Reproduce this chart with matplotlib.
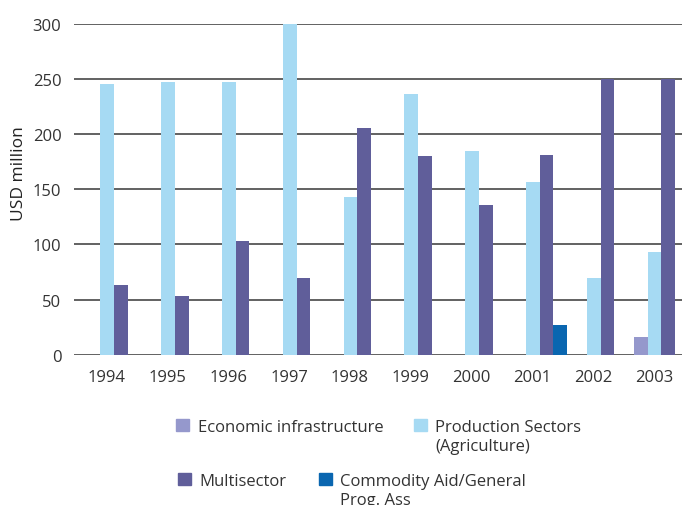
import matplotlib.pyplot as plt
import numpy as np
from matplotlib.patches import Rectangle

plt.rcParams.update({
    "font.family": ["Open Sans", "DejaVu Sans"],
    "font.size": 12,
})

# ============================================================
# Data
# ============================================================

years = ["1994", "1995", "1996", "1997", "1998", "1999", "2000", "2001", "2002", "2003"]
series_names = ["Economic infrastructure", "Production Sectors\n(Agriculture)",
                "Multisector", "Commodity Aid/General\nProg. Ass"]
economic = [0, 0, 0, 0, 0, 0, 0, 0, 0, 16]
production = [245, 247, 247, 300, 143, 236, 185, 157, 70, 93]
multisector = [63, 53, 103, 70, 205, 180, 136, 181, 250, 250]
commodity = [0, 0, 0, 0, 0, 0, 0, 27, 0, 0]
colors = ["#9598cc", "#a6daf3", "#605e9a", "#0a66b0"]

# ============================================================
# Figure
# ============================================================

fig = plt.figure(figsize=(6.82, 5.06), dpi=100)
ax = fig.add_axes([0.1085, 0.2965, 0.8915, 0.655])

x = np.arange(len(years))
w = 0.225
shift = 0.12
for k, vals in enumerate([economic, production, multisector, commodity]):
    ax.bar(x + shift + (k - 1.5) * w, vals, width=w, color=colors[k], zorder=3)

ax.set_xlim(-0.54, 9.46)
ax.set_ylim(0, 300)
ax.set_yticks(np.arange(0, 301, 50))
ax.set_xticks(x)
ax.set_xticklabels(years)
ax.yaxis.grid(True, color="#555555", linewidth=1.3, zorder=1)
for s in ax.spines.values():
    s.set_visible(False)
ax.tick_params(length=0, colors="#333333", labelsize=12)
ax.tick_params(axis="y", pad=9)
ax.tick_params(axis="x", pad=10)

W, H = 682, 506
fig.text(19 / W, 1 - 174 / H, "USD million", rotation=90, ha="center", va="center",
         fontsize=12.5, color="#222222")

# ============================================================
# Legend (manual layout)
# ============================================================

legend_pos = [(176, 426, 198), (414, 426, 435), (178, 480, 199), (319, 480, 340)]
for (mx, cy, tx), name, c in zip(legend_pos, series_names, colors):
    fig.add_artist(Rectangle((mx / W, 1 - (cy + 6) / H), 13 / W, 12 / H,
                             transform=fig.transFigure, color=c))
    fig.text(tx / W, 1 - (cy - 6) / H, name, ha="left", va="top",
             fontsize=12, color="#333333", linespacing=1.25)

plt.savefig("out.png", dpi=100)
